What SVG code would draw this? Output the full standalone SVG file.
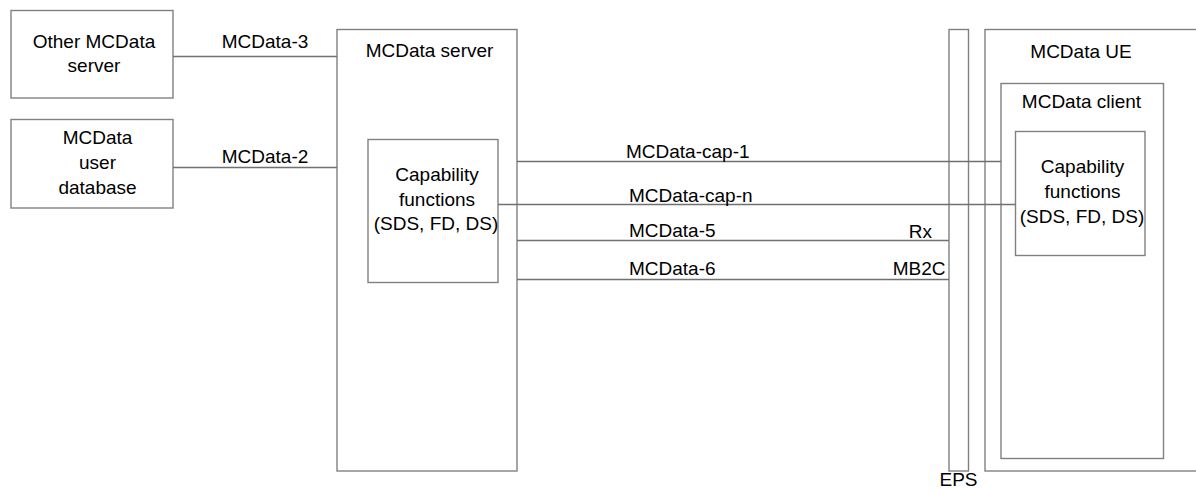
<svg xmlns="http://www.w3.org/2000/svg" width="1196" height="490" viewBox="0 0 1196 490">
<style>
.box{fill:#fff;stroke:#808080;stroke-width:1.4}
.ln{stroke:#707070;stroke-width:1.4;fill:none}
text{font-family:"Liberation Sans",Arial,sans-serif;font-size:19px;fill:#000}
.c{text-anchor:middle}
.e{text-anchor:end}
</style>
<rect x="0" y="0" width="1196" height="490" fill="#fff"/>
<g id="other-server">
<rect class="box" x="11" y="10.5" width="162" height="87.5"/>
<text class="c" x="94" y="48">Other MCData</text>
<text class="c" x="94" y="72">server</text>
</g>
<g id="user-db">
<rect class="box" x="11" y="119.5" width="162" height="88.5"/>
<text class="c" x="97.5" y="144">MCData</text>
<text class="c" x="97.5" y="169">user</text>
<text class="c" x="97.5" y="194">database</text>
</g>
<g id="mcdata-server">
<rect class="box" x="337" y="29.5" width="180" height="441.5"/>
<text class="c" x="429.5" y="57">MCData server</text>
</g>
<g id="server-cap">
<rect class="box" x="368" y="139.5" width="130" height="143"/>
<text class="c" x="437" y="181">Capability</text>
<text class="c" x="437" y="205.5">functions</text>
<text class="c" x="436" y="230">(SDS, FD, DS)</text>
</g>
<g id="eps">
<rect class="box" x="949" y="29.5" width="19.5" height="441.5"/>
<text class="c" x="958.5" y="486">EPS</text>
</g>
<g id="mcdata-ue">
<rect class="box" x="985" y="29.5" width="220" height="441.5"/>
<text class="c" x="1081" y="58">MCData UE</text>
</g>
<g id="mcdata-client">
<rect class="box" x="1001" y="83.5" width="162.5" height="375"/>
<text class="c" x="1081.5" y="108">MCData client</text>
</g>
<g id="client-cap">
<rect class="box" x="1015.5" y="131.5" width="129.5" height="124"/>
<text class="c" x="1082.5" y="173">Capability</text>
<text class="c" x="1082.5" y="198">functions</text>
<text class="c" x="1082" y="222.5">(SDS, FD, DS)</text>
</g>
<g id="connectors">
<line class="ln" x1="173" y1="56.5" x2="337" y2="56.5"/>
<line class="ln" x1="173" y1="167.5" x2="337" y2="167.5"/>
<line class="ln" x1="517" y1="161.5" x2="1001" y2="161.5"/>
<line class="ln" x1="498" y1="204.5" x2="1015.5" y2="204.5"/>
<line class="ln" x1="517" y1="240.5" x2="949" y2="240.5"/>
<line class="ln" x1="517" y1="279.5" x2="949" y2="279.5"/>
<text class="c" x="265" y="48">MCData-3</text>
<text class="c" x="265" y="162.5">MCData-2</text>
<text x="626" y="157.5">MCData-cap-1</text>
<text x="629" y="201.5">MCData-cap-n</text>
<text x="629" y="236.5">MCData-5</text>
<text x="629" y="275">MCData-6</text>
<text class="e" x="932" y="238">Rx</text>
<text class="e" x="945.5" y="275">MB2C</text>
</g>
</svg>
